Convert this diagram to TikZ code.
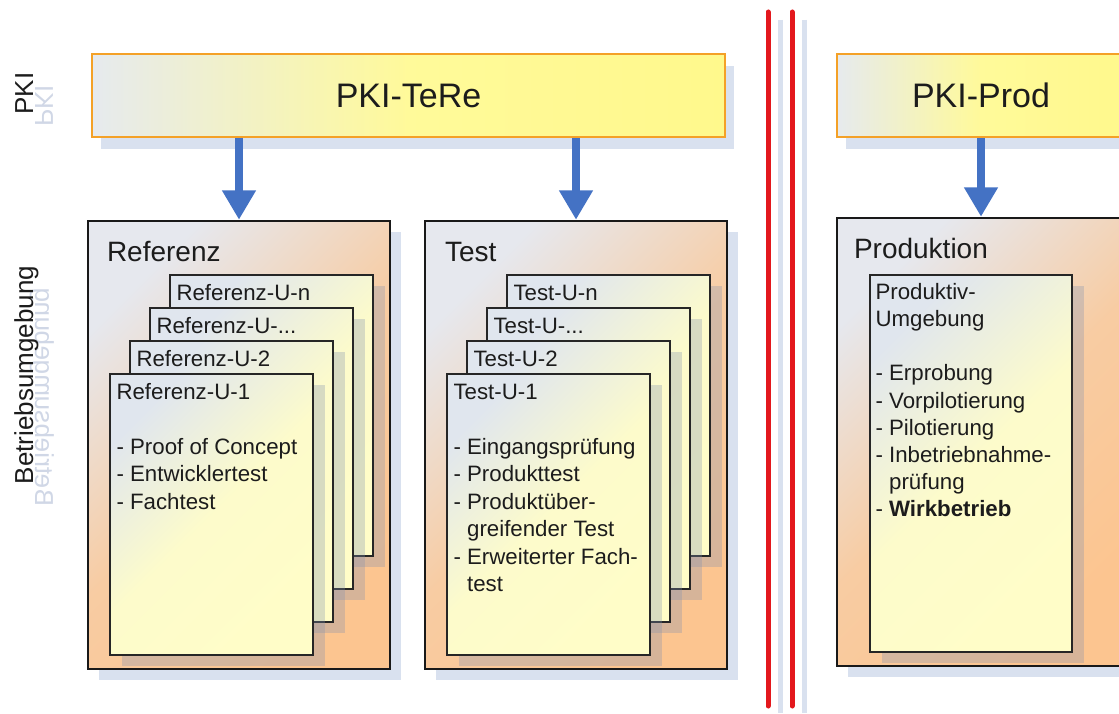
\documentclass[tikz,border=0pt]{standalone}
\usepackage{fontspec}
\setmainfont{Liberation Sans}
\usetikzlibrary{arrows.meta,shadows,calc}
\definecolor{txt}{HTML}{1C1C1C}
\definecolor{pkiorange}{HTML}{F4A127}
\definecolor{pkiyellow}{HTML}{FFF98C}
\definecolor{pkigray}{HTML}{E6EAEE}
\definecolor{boxorange}{HTML}{FCC590}
\definecolor{boxgray}{HTML}{E6E8EE}
\definecolor{cardyellow}{HTML}{FFFDC8}
\definecolor{cardgray}{HTML}{E0E6EE}
\definecolor{shadowblue}{HTML}{D9E1EF}
\definecolor{cardshadow}{HTML}{8090B0}
\definecolor{arrowblue}{HTML}{4472C4}
\definecolor{sepred}{HTML}{E3181D}
\definecolor{reflect}{HTML}{D0D7E6}
\newcommand\ddd{...}
\newcommand\ind{\hphantom{- }}
\tikzset{
  pkibox/.style={draw=pkiorange, line width=1.6pt, left color=pkigray, right color=pkiyellow,
    middle color=pkiyellow!88!white, inner sep=0pt, text=txt, font=\fontsize{25.5}{30}\selectfont,
    drop shadow={shadow xshift=6.75pt, shadow yshift=-9pt, fill=shadowblue, opacity=1}},
  envbox/.style={draw=black!90, line width=1.9pt, top color=boxgray, bottom color=boxorange,
    middle color=boxorange!80!boxgray, shading angle=45, inner sep=0pt,
    drop shadow={shadow xshift=8.5pt, shadow yshift=-8.5pt, fill=shadowblue, opacity=1}},
  card/.style={draw=black!85, line width=1.1pt, top color=cardgray, bottom color=cardyellow,
    middle color=cardyellow!92!cardgray, shading angle=45, inner sep=0pt,
    minimum width=203*0.75pt, minimum height=281*0.75pt,
    drop shadow={shadow xshift=9pt, shadow yshift=-8.5pt, fill=cardshadow, opacity=0.3}},
  envtitle/.style={anchor=base west, inner sep=0pt, text=txt, font=\fontsize{21}{25}\selectfont},
  cardtxt/.style={anchor=base west, inner sep=0pt, text=txt, font=\fontsize{16.7}{20}\selectfont},
  sidelabel/.style={rotate=90, anchor=base, inner sep=0pt, text=txt, font=\fontsize{19.5}{24}\selectfont},
  mirrorlabel/.style={sidelabel, text=reflect},
  flow/.style={draw=arrowblue, line width=6pt, -{Triangle[width=24pt, length=22pt]}},
  redline/.style={draw=sepred, line width=3.75pt, line cap=round},
  paleline/.style={draw=shadowblue, line width=3.75pt},
}
\begin{document}
\begin{tikzpicture}[x=0.75pt,y=-0.75pt]
\clip (0,0) rectangle (1119,713);
\fill[white] (0,0) rectangle (1119,713);

% side labels with reflections
\node[mirrorlabel] (pkimir) at (35,106) {\scalebox{1}[-1]{PKI}};
\node[sidelabel] (pkilab) at (33,93.5) {PKI};
\node[mirrorlabel] (envmir) at (35,397) {\scalebox{1}[-1]{Betriebsumgebung}};
\node[sidelabel] (envlab) at (33,375) {Betriebsumgebung};

% PKI boxes
\node[pkibox, minimum width=633*0.75pt, minimum height=83*0.75pt] (tere) at (408.5,95.5) {PKI-TeRe};
\node[pkibox, minimum width=288*0.75pt, minimum height=83*0.75pt] (prodpki) at (981,95.5) {PKI-Prod};

% environment boxes
\node[envbox, minimum width=302*0.75pt, minimum height=448*0.75pt] (ref) at (239,445) {};
\node[envbox, minimum width=302*0.75pt, minimum height=448*0.75pt] (test) at (576,445) {};
\node[envbox, minimum width=288*0.75pt, minimum height=448*0.75pt] (prod) at (981,442) {};

\node[envtitle] (reftitle) at ($(ref.north west)+(20,42)$) {Referenz};
\node[envtitle] (testtitle) at ($(test.north west)+(21,42)$) {Test};
\node[envtitle] (prodtitle) at ($(prod.north west)+(18,42)$) {Produktion};

% card stacks
\foreach \pre/\dx/\nm in {r/0/Referenz, t/337/Test}{
  \foreach \k/\lab in {0/n, 1/\ddd, 2/2, 3/1}{
    \node[card] (\pre c\k) at (271.5+\dx-20*\k, 415.5+33*\k) {};
    \node[cardtxt] (\pre c\k t) at ($(\pre c\k.north west)+(7,26)$) {\nm-U-\lab};
  }
}
\foreach \t [count=\i] in {- Proof of Concept, - Entwicklertest, - Fachtest}
  \node[cardtxt] (rl\i) at ($(rc3.north west)+(7,53.5+27.5*\i)$) {\t};
\foreach \t [count=\i] in {- Eingangsprüfung, - Produkttest, - Produktüber-, \ind greifender Test, - Erweiterter Fach-, \ind test}
  \node[cardtxt] (tl\i) at ($(tc3.north west)+(7,53.5+27.5*\i)$) {\t};

% production card
\node[card, minimum width=202*0.75pt, minimum height=377*0.75pt] (pc) at (971,463.5) {};
\foreach \t [count=\i] in {Produktiv-, Umgebung, {}, - Erprobung, - Vorpilotierung, - Pilotierung, - Inbetriebnahme-, \ind prüfung, - \textbf{Wirkbetrieb}}
  \node[cardtxt] (pl\i) at ($(pc.north west)+(6,-2.2+27.2*\i)$) {\t};

% arrows
\draw[flow] (tere.south -| ref.north) -- (ref.north);
\draw[flow] (tere.south -| test.north) -- (test.north);
\draw[flow] (prodpki.south -| prod.north) -- (prod.north);

% separator
\draw[paleline] (780,20) -- (780,713);
\draw[paleline] (804,20) -- (804,713);
\draw[redline] (768,12) -- (768,706);
\draw[redline] (792,12) -- (792,706);
\end{tikzpicture}
\end{document}
